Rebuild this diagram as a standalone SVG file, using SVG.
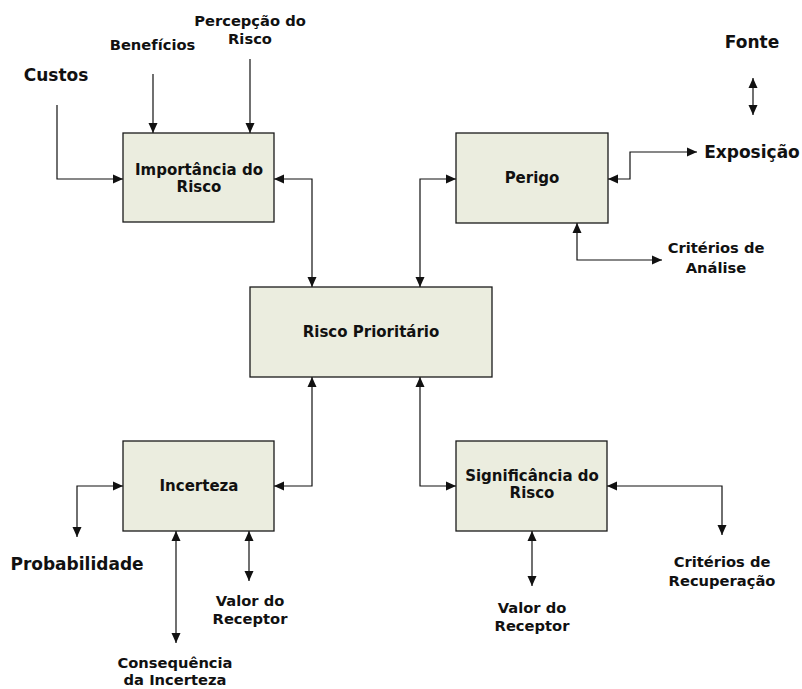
<svg xmlns="http://www.w3.org/2000/svg" width="802" height="689" viewBox="0 0 802 689">
  <style>
    .box { fill: #ebeddf; stroke: #1a1a1a; stroke-width: 1.3; }
    .lbl { font-family: "DejaVu Sans", Verdana, sans-serif; font-weight: bold; fill: #111; text-anchor: middle; }
    .s14 { font-size: 14.7px; }
    .s15 { font-size: 15px; }
    .s17 { font-size: 17px; }
    .wire { fill: none; stroke: #111; stroke-width: 1.2; }
  </style>
  <defs>
    <marker id="ah" viewBox="0 0 10 10" refX="10" refY="5" markerWidth="10" markerHeight="10" markerUnits="userSpaceOnUse" orient="auto-start-reverse">
      <path d="M0,0.5 L10,5 L0,9.5 z" fill="#111"/>
    </marker>
  </defs>

  <rect width="802" height="689" fill="#ffffff"/>

  <!-- connectors -->
  <g id="connectors">
    <path class="wire" d="M57,105 V179 H123" marker-end="url(#ah)"/>
    <path class="wire" d="M153,74 V133" marker-end="url(#ah)"/>
    <path class="wire" d="M250,59 V133" marker-end="url(#ah)"/>
    <path class="wire" d="M274,179 H312 V287" marker-start="url(#ah)" marker-end="url(#ah)"/>
    <path class="wire" d="M456,179 H420 V287" marker-start="url(#ah)" marker-end="url(#ah)"/>
    <path class="wire" d="M608,179 H630 V152 H697" marker-start="url(#ah)" marker-end="url(#ah)"/>
    <path class="wire" d="M753,78 V115" marker-start="url(#ah)" marker-end="url(#ah)"/>
    <path class="wire" d="M577,223 V260 H662" marker-start="url(#ah)" marker-end="url(#ah)"/>
    <path class="wire" d="M274,486 H312 V377" marker-start="url(#ah)" marker-end="url(#ah)"/>
    <path class="wire" d="M456,486 H420 V377" marker-start="url(#ah)" marker-end="url(#ah)"/>
    <path class="wire" d="M123,486 H77 V537" marker-start="url(#ah)" marker-end="url(#ah)"/>
    <path class="wire" d="M176,531 V643" marker-start="url(#ah)" marker-end="url(#ah)"/>
    <path class="wire" d="M249,531 V581" marker-start="url(#ah)" marker-end="url(#ah)"/>
    <path class="wire" d="M532,531 V586" marker-start="url(#ah)" marker-end="url(#ah)"/>
    <path class="wire" d="M607,486 H722 V535" marker-start="url(#ah)" marker-end="url(#ah)"/>
  </g>

  <!-- process boxes -->
  <g id="importancia">
    <rect class="box" x="123" y="133" width="151" height="89"/>
    <text class="lbl s15" x="199" y="175">Importância do</text>
    <text class="lbl s15" x="199" y="192">Risco</text>
  </g>
  <g id="perigo">
    <rect class="box" x="456" y="133" width="152" height="90"/>
    <text class="lbl s15" x="532" y="183">Perigo</text>
  </g>
  <g id="risco-prioritario">
    <rect class="box" x="250" y="287" width="242" height="90"/>
    <text class="lbl s15" x="371" y="337">Risco Prioritário</text>
  </g>
  <g id="incerteza">
    <rect class="box" x="123" y="441" width="151" height="90"/>
    <text class="lbl s15" x="199" y="491">Incerteza</text>
  </g>
  <g id="significancia">
    <rect class="box" x="456" y="441" width="151" height="90"/>
    <text class="lbl s15" x="532" y="481">Significância do</text>
    <text class="lbl s15" x="532" y="498">Risco</text>
  </g>

  <!-- free labels -->
  <g id="custos"><text class="lbl s17" x="56" y="81">Custos</text></g>
  <g id="beneficios"><text class="lbl s14" x="152.5" y="50">Benefícios</text></g>
  <g id="percepcao">
    <text class="lbl s14" x="250" y="26">Percepção do</text>
    <text class="lbl s14" x="250" y="44">Risco</text>
  </g>
  <g id="fonte"><text class="lbl s17" x="752" y="48">Fonte</text></g>
  <g id="exposicao"><text class="lbl s17" x="752" y="158">Exposição</text></g>
  <g id="criterios-analise">
    <text class="lbl s14" x="716" y="253">Critérios de</text>
    <text class="lbl s14" x="716" y="273">Análise</text>
  </g>
  <g id="probabilidade"><text class="lbl s17" x="77" y="570">Probabilidade</text></g>
  <g id="valor-receptor-1">
    <text class="lbl s14" x="250" y="606">Valor do</text>
    <text class="lbl s14" x="250" y="624">Receptor</text>
  </g>
  <g id="consequencia">
    <text class="lbl s14" x="175" y="668">Consequência</text>
    <text class="lbl s14" x="175" y="685">da Incerteza</text>
  </g>
  <g id="valor-receptor-2">
    <text class="lbl s14" x="532" y="613">Valor do</text>
    <text class="lbl s14" x="532" y="631">Receptor</text>
  </g>
  <g id="criterios-recuperacao">
    <text class="lbl s14" x="722" y="567">Critérios de</text>
    <text class="lbl s14" x="722" y="586">Recuperação</text>
  </g>
</svg>
